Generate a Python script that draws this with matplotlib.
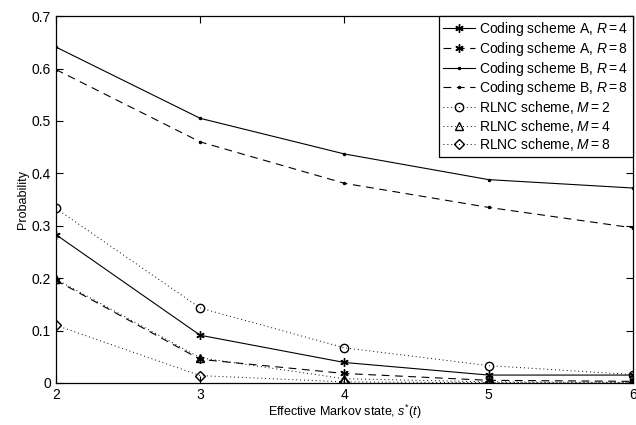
import numpy as np
import matplotlib.pyplot as plt

plt.rcParams['font.family'] = ['Liberation Sans', 'DejaVu Sans']
plt.rcParams['mathtext.fontset'] = 'custom'
plt.rcParams['mathtext.it'] = 'Liberation Sans:italic'
plt.rcParams['mathtext.rm'] = 'Liberation Sans'

states = [2, 3, 4, 5, 6]
coding_a_r4 = [0.283, 0.091, 0.039, 0.015, 0.015]
coding_a_r8 = [0.196, 0.045, 0.018, 0.005, 0.003]
coding_b_r4 = [0.641, 0.505, 0.437, 0.388, 0.372]
coding_b_r8 = [0.598, 0.460, 0.381, 0.335, 0.296]
rlnc_m2 = [0.333, 0.143, 0.067, 0.033, 0.016]
rlnc_m4 = [0.198, 0.048, 0.008, 0.002, 0.001]
rlnc_m8 = [0.110, 0.014, 0.002, 0.0005, 0.0003]

fig = plt.figure(figsize=(6.36, 4.25), dpi=100)
ax = fig.add_axes([0.088, 0.099, 0.907, 0.863])

star = (6, 2, 0)
dash = (7, 5)
dot = (1, 3)
ax.plot(states, coding_a_r4, 'k-', marker=star, ms=6, lw=0.8,
        label='Coding scheme A, $R = 4$')
ax.plot(states, coding_a_r8, 'k--', marker=star, ms=6, lw=0.8, dashes=dash,
        label='Coding scheme A, $R = 8$')
ax.plot(states, coding_b_r4, 'k-', marker='.', ms=3, lw=0.8,
        label='Coding scheme B, $R = 4$')
ax.plot(states, coding_b_r8, 'k--', marker='.', ms=3, lw=0.8, dashes=dash,
        label='Coding scheme B, $R = 8$')
ax.plot(states, rlnc_m2, 'k:', marker='o', ms=6, mfc='none', lw=0.7, dashes=dot,
        label='RLNC scheme, $M = 2$')
ax.plot(states, rlnc_m4, 'k:', marker='^', ms=6, mfc='none', lw=0.7, dashes=dot,
        label='RLNC scheme, $M = 4$')
ax.plot(states, rlnc_m8, 'k:', marker='D', ms=5, mfc='none', lw=0.7, dashes=dot,
        label='RLNC scheme, $M = 8$')

ax.set_xlim(2, 6)
ax.set_ylim(0, 0.7)
ax.set_xticks(states)
ax.set_yticks(np.arange(0, 0.71, 0.1))
ax.set_yticklabels(['0', '0.1', '0.2', '0.3', '0.4', '0.5', '0.6', '0.7'])
ax.tick_params(direction='in', top=True, right=True, labelsize=10, length=5)
for s in ax.spines.values():
    s.set_linewidth(0.9)

ax.set_xlabel('Effective Markov state, $s^{*}(t)$', fontsize=9, labelpad=1)
ax.set_ylabel('Probability', fontsize=9, labelpad=2)

leg = ax.legend(loc='upper right', fontsize=10, fancybox=False, framealpha=1,
                edgecolor='k', borderaxespad=0, handlelength=2.3,
                labelspacing=0.12, borderpad=0.3, handletextpad=0.3)
leg.get_frame().set_linewidth(0.9)

fig.savefig('out.png', dpi=100)
